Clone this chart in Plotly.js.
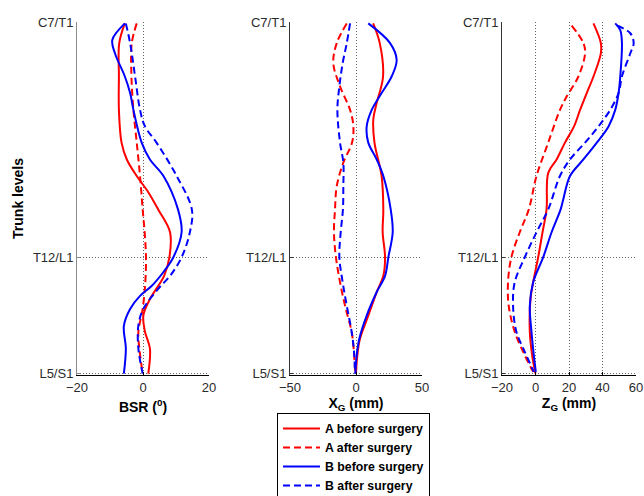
<!DOCTYPE html>
<html>
<head>
<meta charset="utf-8">
<script src="https://cdn.plot.ly/plotly-3.0.1.min.js"></script>
<style>html,body{margin:0;padding:0;background:#fff;}#chart{width:644px;height:496px;}</style>
</head>
<body>
<div id="chart"></div>
<script>
// Trunk level ticks (0 = L5/S1, 1 = C7/T1)
const levelTicks = [0, 0.331, 1];
const levelLabels = ['L5/S1', 'T12/L1', 'C7/T1'];
const seriesNames = ['A before surgery', 'A after surgery', 'B before surgery', 'B after surgery'];

// ---- BSR (deg) ----
const bsrA_before_lvl = [0.996, 0.94, 0.845, 0.75, 0.657, 0.609, 0.562, 0.516, 0.467, 0.402, 0.331, 0.278, 0.212, 0.165, 0.119, 0.071, 0];
const bsrA_before     = [-5.5, -7.2, -7.3, -7.3, -6.5, -4.9, -1.9, 1.6, 4.6, 8.2, 8.0, 6.4, 2.1, 0.1, 0.6, 2.1, 1.6];
const bsrA_after_lvl  = [0.996, 0.94, 0.845, 0.75, 0.657, 0.562, 0.467, 0.402, 0.331, 0.26, 0.184, 0.119, 0.071, 0];
const bsrA_after      = [-1.9, -3.4, -3.5, -2.9, -1.9, -0.9, -0.1, 0.5, 0.9, 0.7, -0.1, -1.4, -1.1, -0.1];
const bsrB_before_lvl = [0.996, 0.949, 0.911, 0.845, 0.798, 0.75, 0.657, 0.609, 0.562, 0.467, 0.402, 0.331, 0.289, 0.249, 0.221, 0.184, 0.136, 0.071, 0];
const bsrB_before     = [-5.5, -9.3, -8.5, -5.5, -3.9, -2.9, -0.4, 2.1, 6.2, 10.6, 11.7, 9.2, 6.2, 2.6, -0.9, -3.9, -5.8, -5.2, -5.8];
const bsrB_after_lvl  = [0.996, 0.94, 0.845, 0.75, 0.703, 0.657, 0.562, 0.467, 0.402, 0.331, 0.278, 0.241, 0.184, 0.137, 0.071, 0];
const bsrB_after      = [-5.2, -3.9, -2.4, -0.9, 0.6, 4.1, 10.2, 14.8, 14.2, 11.7, 8.2, 4.6, 0.1, -1.4, -1.4, -0.1];

// ---- X_G (mm) ----
const xgA_before_lvl = [0.996, 0.94, 0.845, 0.77, 0.722, 0.657, 0.562, 0.467, 0.402, 0.331, 0.278, 0.232, 0.165, 0.099, 0.052, 0];
const xgA_before     = [13, 18, 20.5, 15.7, 13.1, 14, 19.4, 20.7, 20.2, 22, 20.7, 15.7, 9.3, 3, 1, 0];
const xgA_after_lvl  = [0.996, 0.94, 0.883, 0.817, 0.75, 0.703, 0.657, 0.6, 0.533, 0.467, 0.402, 0.331, 0.26, 0.193, 0.119, 0.08, 0];
const xgA_after      = [-7, -14.6, -17.2, -12.1, -4.5, -2, -3, -9.6, -14.6, -15.9, -16.7, -15.2, -12.1, -8.3, -3.3, -2, -0.5];
const xgB_before_lvl = [0.996, 0.94, 0.892, 0.845, 0.798, 0.75, 0.703, 0.657, 0.609, 0.562, 0.467, 0.402, 0.331, 0.278, 0.232, 0.165, 0.099, 0.052, 0];
const xgB_before     = [9.3, 25.8, 30.8, 27, 19.4, 11.9, 8.1, 9.3, 15.7, 20.7, 26.3, 27.8, 24.5, 22, 15.7, 8.1, 2.5, 0.5, -0.5];
const xgB_after_lvl  = [0.996, 0.94, 0.883, 0.817, 0.75, 0.657, 0.6, 0.533, 0.467, 0.402, 0.331, 0.26, 0.193, 0.119, 0.062, 0];
const xgB_after      = [-4.5, -7, -10.1, -12.6, -14.1, -12.1, -9.6, -9.6, -9.9, -11.6, -12.6, -10.1, -7, -3.3, -1.5, -0.8];

// ---- Z_G (mm) ----
const zgA_before_lvl = [0.996, 0.94, 0.911, 0.845, 0.798, 0.75, 0.703, 0.657, 0.609, 0.571, 0.467, 0.402, 0.331, 0.26, 0.212, 0.119, 0.052, 0];
const zgA_before     = [34.6, 39, 39, 34.6, 30.6, 26.6, 23, 17.6, 12.6, 7.6, 6.6, 4.2, 1.6, -1.4, -3, -3.4, -2, 0];
const zgA_after_lvl  = [0.99, 0.94, 0.911, 0.845, 0.788, 0.75, 0.657, 0.562, 0.467, 0.402, 0.331, 0.26, 0.193, 0.119, 0.052, 0.005];
const zgA_after      = [21.6, 28.6, 29.6, 25.6, 18.6, 14.6, 7.6, 0.6, -4, -9.4, -14.4, -16.4, -16, -12.4, -6.4, -1.4];
const zgB_before_lvl = [0.996, 0.977, 0.94, 0.845, 0.798, 0.75, 0.703, 0.657, 0.609, 0.562, 0.496, 0.467, 0.402, 0.331, 0.26, 0.193, 0.119, 0.052, 0.005];
const zgB_before     = [47.6, 50.6, 51.6, 50.6, 49.6, 47.6, 43.6, 36.6, 28.6, 20.6, 16.6, 15, 9.6, 4.6, -1.4, -3.4, -2.4, -1, 0.2];
const zgB_after_lvl  = [0.99, 0.968, 0.94, 0.911, 0.845, 0.798, 0.75, 0.703, 0.657, 0.609, 0.562, 0.467, 0.402, 0.331, 0.26, 0.193, 0.119, 0.062, 0.005];
const zgB_after      = [48.6, 56.6, 58.6, 56.6, 51.6, 49.6, 44.6, 37.6, 29.6, 20.6, 14.6, 7.6, 0.6, -6.4, -12.4, -13.4, -11.4, -6.4, -1];

const RED = '#ff0000', BLUE = '#0000ff';
const DASH = '7px,4px';
const styles = [
  {color: RED, dash: 'solid'},
  {color: RED, dash: DASH},
  {color: BLUE, dash: 'solid'},
  {color: BLUE, dash: DASH}
];

const panels = [
  {xa: 'x', ya: 'y', series: [[bsrA_before, bsrA_before_lvl], [bsrA_after, bsrA_after_lvl], [bsrB_before, bsrB_before_lvl], [bsrB_after, bsrB_after_lvl]]},
  {xa: 'x2', ya: 'y2', series: [[xgA_before, xgA_before_lvl], [xgA_after, xgA_after_lvl], [xgB_before, xgB_before_lvl], [xgB_after, xgB_after_lvl]]},
  {xa: 'x3', ya: 'y3', series: [[zgA_before, zgA_before_lvl], [zgA_after, zgA_after_lvl], [zgB_before, zgB_before_lvl], [zgB_after, zgB_after_lvl]]}
];

const traces = [];
panels.forEach((p, pi) => {
  p.series.forEach((s, si) => {
    traces.push({
      type: 'scatter', mode: 'lines',
      x: s[0], y: s[1], xaxis: p.xa, yaxis: p.ya,
      name: '<b>' + seriesNames[si] + '</b>',
      showlegend: pi === 0,
      line: {color: styles[si].color, dash: styles[si].dash, width: 2, shape: 'spline', smoothing: 1},
      hoverinfo: 'skip'
    });
  });
});

const FONT = 'Arial, "Liberation Sans", sans-serif';
const tickFont = {family: FONT, size: 13, color: '#2b2b2b'};
const titleFont = {family: FONT, size: 14, color: '#000', weight: 'bold'};
const yDom = [1 - 375/496, 1 - 22/496];
const GRID = '#666';
const GDASH = '1px,2px';

function xAxis(dom, range, dtick, title, anchor, standoff) {
  return {
    domain: dom, range: range, dtick: dtick, tick0: range[0], anchor: anchor,
    showgrid: true, gridcolor: GRID, griddash: GDASH, gridwidth: 1,
    zeroline: false, showline: true, linecolor: '#000', linewidth: 1,
    ticks: 'inside', ticklen: 3, tickcolor: '#000',
    tickfont: tickFont, fixedrange: true, automargin: false,
    title: {text: title, font: titleFont, standoff: standoff}
  };
}
function yAxis(anchor, lineColor, title) {
  const a = {
    domain: yDom, range: [-0.004, 1], anchor: anchor,
    tickmode: 'array', tickvals: levelTicks, ticktext: levelLabels,
    showgrid: true, gridcolor: GRID, griddash: GDASH, gridwidth: 1,
    zeroline: false, showline: true, linecolor: lineColor, linewidth: 1,
    ticks: 'inside', ticklen: 3, tickcolor: lineColor,
    tickfont: tickFont, fixedrange: true, automargin: false
  };
  if (title) a.title = {text: title, font: titleFont, standoff: 6};
  return a;
}

const layout = {
  width: 644, height: 496,
  margin: {l: 0, r: 0, t: 0, b: 0, autoexpand: false},
  paper_bgcolor: '#fff', plot_bgcolor: '#fff',
  showlegend: true,
  legend: {
    x: 277/644, y: 1 - 413/496, xanchor: 'left', yanchor: 'top',
    bgcolor: '#fff', bordercolor: '#000', borderwidth: 1,
    font: {family: FONT, size: 12.3, color: '#000'},
    tracegroupgap: 0, itemwidth: 37
  },
  xaxis: xAxis([77/644, 209/644], [-20, 20], 20, '<b>BSR (<sup>0</sup>)</b>', 'y', 8),
  xaxis2: xAxis([290/644, 422/644], [-50, 50], 50, '<b>X<sub>G</sub> (mm)</b>', 'y2', 3),
  xaxis3: xAxis([502/644, 636/644], [-20, 60], 20, '<b>Z<sub>G</sub> (mm)</b>', 'y3', 3),
  yaxis: yAxis('x', '#8c8c8c', '<b>Trunk levels</b>'),
  yaxis2: yAxis('x2', '#333'),
  yaxis3: yAxis('x3', '#333')
};

Plotly.newPlot('chart', traces, layout, {displayModeBar: false, staticPlot: true});
</script>
</body>
</html>
